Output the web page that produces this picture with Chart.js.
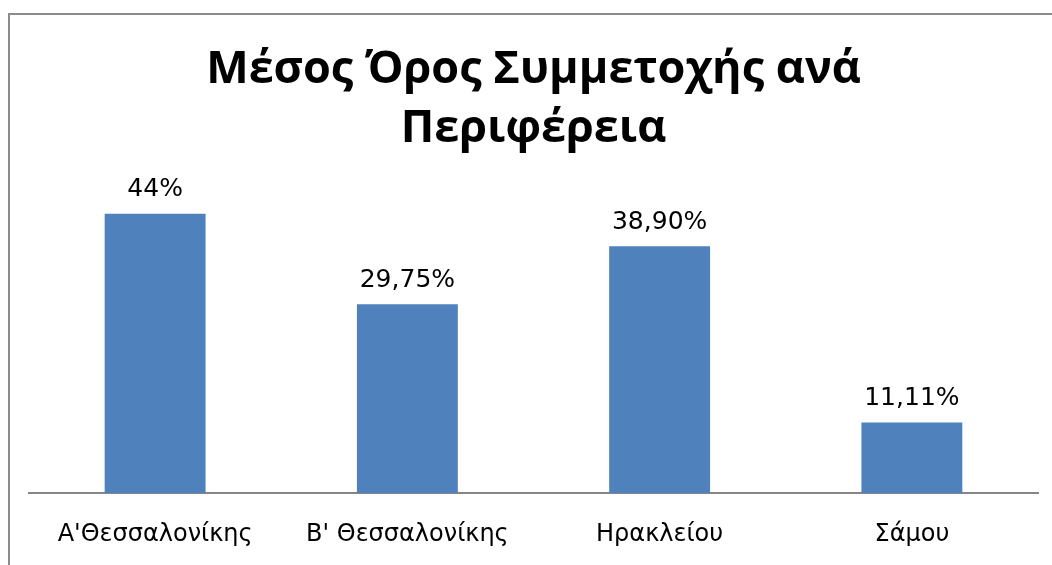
<!DOCTYPE html>
<html>
<head>
<meta charset="utf-8">
<script src="https://cdn.jsdelivr.net/npm/chart.js@4.4.0/dist/chart.umd.min.js"></script>
<style>
  html, body { margin: 0; padding: 0; background: #ffffff; overflow: hidden; }
  #wrap { position: relative; width: 1052px; height: 565px; }
  #frame { position: absolute; left: 8px; top: 13px; width: 1100px; height: 600px;
           border: 2px solid #8c8c8c; box-sizing: border-box; }
  #chart { position: absolute; left: 0; top: 0; }
</style>
</head>
<body>
<div id="wrap">
  <div id="frame"></div>
  <canvas id="chart" width="1052" height="565"></canvas>
</div>
<script>
// Μέσος όρος συμμετοχής ανά περιφέρεια
const TITLE = ['Μέσος Όρος Συμμετοχής ανά', 'Περιφέρεια'];
const REGIONS = ["Α'Θεσσαλονίκης", "Β' Θεσσαλονίκης", 'Ηρακλείου', 'Σάμου'];
const PARTICIPATION = [44, 29.75, 38.9, 11.11];
const VALUE_LABELS = ['44%', '29,75%', '38,90%', '11,11%'];

const FONT = '"Open Sans", "DejaVu Sans", sans-serif';
const LABEL_FONT = '"DejaVu Sans", sans-serif';

// writes the value labels above each bar
const valueLabels = {
  id: 'valueLabels',
  afterDatasetsDraw(chart){
    const ctx = chart.ctx;
    const meta = chart.getDatasetMeta(0);
    ctx.save();
    ctx.font = '25px ' + LABEL_FONT;
    ctx.fillStyle = '#000000';
    ctx.textAlign = 'center';
    ctx.textBaseline = 'middle';
    meta.data.forEach((bar, i) => {
      ctx.fillText(VALUE_LABELS[i], bar.x, bar.y - 24);
    });
    ctx.restore();
  }
};

new Chart(document.getElementById('chart'), {
  type: 'bar',
  data: {
    labels: REGIONS,
    datasets: [{
      data: PARTICIPATION,
      backgroundColor: '#4f81bd',
      borderWidth: 0,
      barPercentage: 0.4,
      categoryPercentage: 1
    }]
  },
  options: {
    responsive: false,
    animation: false,
    layout: { padding: { left: 29, right: 14, top: 0, bottom: 0 } },
    plugins: {
      legend: { display: false },
      tooltip: { enabled: false },
      title: {
        display: true,
        text: TITLE,
        color: '#000000',
        font: { family: FONT, size: 45, weight: 'bold', lineHeight: 1.32 },
        padding: { top: 40, bottom: 17 }
      }
    },
    scales: {
      y: { display: false, min: 0, max: 50 },
      x: {
        grid: { display: false },
        border: { display: true, color: '#868686', width: 2 },
        ticks: { color: '#000000', font: { family: LABEL_FONT, size: 24 }, padding: 19, maxRotation: 0 },
        afterFit(s){ s.height = 72; }
      }
    }
  },
  plugins: [valueLabels]
});
</script>
</body>
</html>
